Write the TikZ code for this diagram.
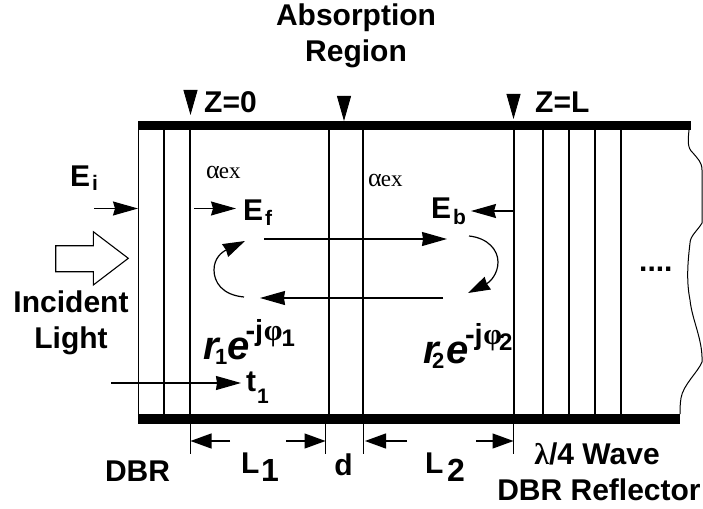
\documentclass[tikz,border=0pt]{standalone}
\usepackage{fontspec}
\setmainfont{Liberation Sans}
\newfontfamily\tms{Liberation Serif}
\usetikzlibrary{arrows.meta}
\tikzset{
  thinwall/.style={line width=1pt},
  midwall/.style={line width=1.4pt},
  bar/.style={line width=9.5pt,line cap=butt},
  arr/.style={line width=1.1pt,-{Stealth[length=25pt,width=14pt,inset=2pt]}},
  longarr/.style={line width=1.2pt,-{Stealth[length=25pt,width=14pt,inset=1pt]}},
  dimarr/.style={line width=1.2pt,-{Stealth[length=21pt,width=15pt,inset=0pt]}},
  downarr/.style={line width=0.8pt,-{Stealth[length=25pt,width=14pt,inset=0pt]}},
  curve/.style={line width=1.2pt,-{Stealth[length=22pt,width=14pt,inset=1pt]}},
  lab/.style={font=\fontsize{30}{32}\selectfont\bfseries,inner sep=0pt,anchor=base},
  labl/.style={lab,anchor=base west},
  sub/.style={font=\fontsize{21}{24}\selectfont\bfseries,inner sep=0pt,anchor=base west},
  bigsub/.style={font=\fontsize{32}{34}\selectfont\bfseries,inner sep=0pt,anchor=base west},
  alphatext/.style={inner sep=0pt,anchor=base west},
  reflect/.style={font=\fontsize{40}{42}\selectfont\bfseries,inner sep=0pt,anchor=base west},
}
\newcommand{\aex}{\tms\fontsize{26}{28}\selectfont α\hspace{-1pt}\fontsize{23}{26}\selectfont ex}
% #1 sub, #2 kern before sub, #3 kern after sub, #4 sub of phase, #5 kern before phase sub
\newcommand{\rexp}[5]{\textit{r}\hspace{#2}\raisebox{-5pt}{\fontsize{22}{24}\selectfont #1}\hspace{#3}\textit{e}\hspace{-4pt}\raisebox{19pt}{\fontsize{29}{30}\selectfont -j\hspace{0.5pt}{\tms\fontsize{30}{30}\selectfont φ}\hspace{#5}\raisebox{-6pt}{\fontsize{24}{26}\selectfont #4}}}
\begin{document}
\begin{tikzpicture}[x=1pt,y=-1pt]
\useasboundingbox (0,0) rectangle (703,508);
% bars
\coordinate (tl) at (138,125.5); \coordinate (tr) at (691,125.5);
\coordinate (bl) at (138,419); \coordinate (br) at (680,419);
% walls
\coordinate (at) at (138.5,125); \coordinate (ab) at (138.5,419);
\draw[thinwall] (at) -- (ab);
\foreach \n/\x in {b/164,c/190,d/329,e/363,g/543,h/569,i/595,j/621}{
  \coordinate (\n t) at (\x,125); \coordinate (\n b) at (\x,419);
  \draw[midwall] (\n t) -- (\n b);
}
\coordinate (ft) at (514,125); \coordinate (fb) at (514,419);
\draw[line width=2.8pt] (ft) -- (fb);
\draw[bar] (tl) -- (tr);
\draw[bar] (bl) -- (br);
% rough edge
\coordinate (w0) at (689,130); \coordinate (w9) at (680,414);
\draw[line width=1pt] (w0) .. controls (688,140) and (687,148) .. (693,153)
  .. controls (697,158) and (702,162) .. (702,170) -- (702,223)
  .. controls (698,230) and (690,236) .. (690,243)
  .. controls (688,260) and (686,280) .. (690,300)
  .. controls (692,320) and (703,340) .. (702,362)
  .. controls (698,372) and (683,385) .. (681,398)
  .. controls (680,404) and (680,410) .. (w9);
% top markers
\coordinate (m1s) at (190.5,90); \coordinate (m1e) at (190.5,115);
\coordinate (m2s) at (344,96);   \coordinate (m2e) at (344,121);
\coordinate (m3s) at (513.5,94); \coordinate (m3e) at (513.5,119);
\draw[downarr] (m1s) -- (m1e);
\draw[downarr] (m2s) -- (m2e);
\draw[downarr] (m3s) -- (m3e);
% titles
\node[lab] (title1) at (356,26) {Absorption};
\node[lab] (title2) at (356,62) {Region};
\node[labl] (z0) at (204,113) {Z=0};
\node[labl] (zl) at (535,113) {Z=L};
\node[alphatext] (ax1) at (206,178) {\aex};
\node[alphatext] (ax2) at (368,186) {\aex};
% fields
\node[labl] (ei) at (70,186) {E};
\node[sub] (eis) at (92,190) {i};
\node[labl] (ef) at (243,220) {E};
\node[sub] (efs) at (265,225) {f};
\node[labl] (eb) at (431,218) {E};
\node[sub] (ebs) at (453,224) {b};
\coordinate (eia) at (94,208.5); \coordinate (eib) at (138,208.5);
\coordinate (efa) at (194,208.5); \coordinate (efb) at (236,208.5);
\coordinate (eba) at (514,211); \coordinate (ebb) at (471,211);
\draw[arr] (eia) -- (eib);
\draw[arr] (efa) -- (efb);
\draw[arr] (eba) -- (ebb);
% loop
\coordinate (u1) at (264,239); \coordinate (u2) at (447,239);
\coordinate (l1) at (443,298); \coordinate (l2) at (260,298);
\draw[longarr] (u1) -- (u2);
\draw[longarr] (l1) -- (l2);
\coordinate (c1) at (244,297); \coordinate (c2) at (245,241);
\coordinate (c3) at (469,236); \coordinate (c4) at (468,293);
\draw[curve] (c1) .. controls (222,295) and (214,282) .. (214,270) .. controls (214,258) and (222,252) .. (c2);
\draw[curve] (c3) .. controls (488,238) and (498,250) .. (498,262) .. controls (498,274) and (490,282) .. (c4);
% incident
\path[draw,line width=1.1pt,fill=white] (55.7,245.7) -- (93.3,245.7) -- (93.3,231.7) -- (128.3,258.3) -- (93.3,285) -- (93.3,271.7) -- (55.7,271.7) -- cycle;
\node[lab] (inc) at (71,312) {Incident};
\node[lab] (lig) at (71,348) {Light};
% reflections
\node[reflect] (r1) at (203,359) {\rexp{1}{-5.5pt}{0pt}{1}{-1pt}};
\node[reflect] (r2) at (423,363) {\rexp{2}{-8.5pt}{2.5pt}{2}{-3pt}};
\node[labl] (dots) at (639,271) {....};
% t1
\coordinate (t1a) at (111,383); \coordinate (t1b) at (241,383);
\draw[longarr] (t1a) -- (t1b);
\node[labl] (t) at (246,391) {t};
\node[sub] (ts) at (257,403) {1};
% dimensions
\foreach \n/\x in {p/190.5,q/325.5,r/363,s/513.5}{
  \coordinate (\n a) at (\x,424); \coordinate (\n b) at (\x,454);
  \draw[thinwall] (\n a) -- (\n b);
}
\coordinate (d1) at (230,441); \coordinate (d1e) at (190.5,441);
\coordinate (d2) at (286,441); \coordinate (d2e) at (325.5,441);
\coordinate (d3) at (407,441); \coordinate (d3e) at (365,441);
\coordinate (d4) at (476,441); \coordinate (d4e) at (513.5,441);
\draw[dimarr] (d1) -- (d1e);
\draw[dimarr] (d2) -- (d2e);
\draw[dimarr] (d3) -- (d3e);
\draw[dimarr] (d4) -- (d4e);
\node[lab] (dbr) at (137.5,481) {DBR};
\node[labl] (L1) at (241,473) {L};
\node[bigsub] (L1s) at (261,481) {1};
\node[lab] (dd) at (343.5,475) {d};
\node[labl] (L2) at (425,473) {L};
\node[bigsub] (L2s) at (447,481) {2};
\node[lab] (lam) at (597,464) {{\tms λ}/4 Wave};
\node[lab] (rf) at (599,500) {DBR Reflector};
\end{tikzpicture}
\end{document}
